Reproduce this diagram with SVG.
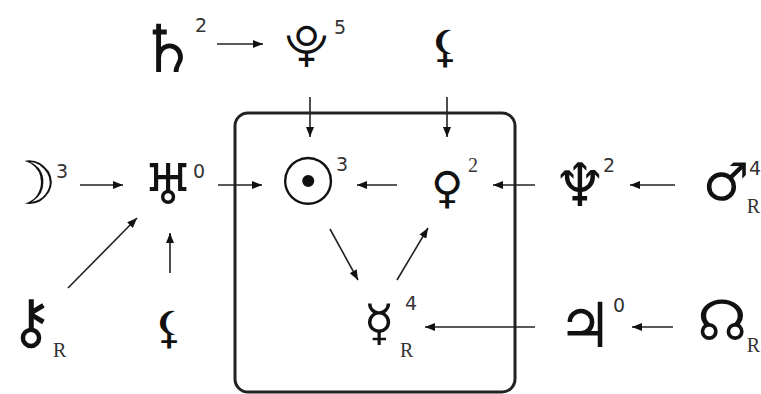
<svg xmlns="http://www.w3.org/2000/svg" width="761" height="394" viewBox="0 0 761 394">
<style>
.g{font-family:"DejaVu Sans",sans-serif;font-size:44px;fill:#111;text-anchor:middle;dominant-baseline:central}
.s{font-family:"DejaVu Sans",sans-serif;font-size:19px;fill:#333}
.r{font-family:"Liberation Serif",serif;font-size:20px;fill:#333}
.c{stroke:#222;stroke-width:1.6;fill:none}
</style>
<defs>
<marker id="a" viewBox="0 0 10 8" refX="10" refY="4" markerWidth="10" markerHeight="8" markerUnits="userSpaceOnUse" orient="auto"><path d="M0,0L10,4L0,8z" fill="#111"/></marker>
</defs>
<rect x="235" y="113" width="280" height="279" rx="13" fill="none" stroke="#222" stroke-width="3"/>
<g id="saturn"><text class="g" x="168" y="49" style="font-size:66px">♄</text><text class="s" x="195" y="32">2</text></g>
<g id="pluto"><text class="g" x="306" y="44">⯓</text><text class="s" x="334" y="34">5</text></g>
<g id="selena"><text class="g" x="445" y="46">⚸</text></g>
<g id="moon"><text class="g" x="30" y="183" style="font-size:60px">☽</text><text class="s" x="56" y="178">3</text></g>
<g id="uranus"><text class="g" x="168" y="184" style="font-size:56px">♅</text><text class="s" x="193" y="178">0</text></g>
<g id="sun"><text class="g" x="308" y="182" style="font-size:66px">☉</text><text class="s" x="336" y="171">3</text></g>
<g id="venus"><text class="g" x="447" y="187">♀</text><text class="r" x="468" y="172">2</text></g>
<g id="neptune"><text class="g" x="580" y="185" style="font-size:60px">♆</text><text class="s" x="603" y="172">2</text></g>
<g id="mars"><text class="g" x="726" y="182" style="font-size:52px">♂</text><text class="s" x="749" y="175">4</text><text class="r" x="760" y="213" text-anchor="end">R</text></g>
<g id="chiron"><text class="g" x="31" y="321" style="font-size:60px">⚷</text><text class="r" x="53" y="357">R</text></g>
<g id="lilith"><text class="g" x="169" y="327">⚸</text></g>
<g id="mercury"><text class="g" x="379" y="323" style="font-size:50px">☿</text><text class="s" x="405" y="310">4</text><text class="r" x="400" y="357">R</text></g>
<g id="jupiter"><text class="g" x="585" y="325" style="font-size:62px">♃</text><text class="s" x="613" y="312">0</text></g>
<g id="node"><text class="g" x="722" y="320" style="font-size:56px">☊</text><text class="r" x="760" y="352" text-anchor="end">R</text></g>
<g id="connectors" class="c">
<line x1="217" y1="44" x2="263" y2="44" marker-end="url(#a)"/>
<line x1="80" y1="185" x2="123" y2="185" marker-end="url(#a)"/>
<line x1="218" y1="185" x2="262" y2="185" marker-end="url(#a)"/>
<line x1="310" y1="97" x2="310" y2="137" marker-end="url(#a)"/>
<line x1="447" y1="97" x2="447" y2="137" marker-end="url(#a)"/>
<line x1="397" y1="185" x2="357" y2="185" marker-end="url(#a)"/>
<line x1="535" y1="185" x2="493" y2="185" marker-end="url(#a)"/>
<line x1="675" y1="185" x2="630" y2="185" marker-end="url(#a)"/>
<line x1="68" y1="288" x2="137" y2="218" marker-end="url(#a)"/>
<line x1="170" y1="273" x2="170" y2="233" marker-end="url(#a)"/>
<line x1="330" y1="229" x2="358" y2="280" marker-end="url(#a)"/>
<line x1="397" y1="280" x2="428" y2="228" marker-end="url(#a)"/>
<line x1="535" y1="327" x2="425" y2="327" marker-end="url(#a)"/>
<line x1="673" y1="327" x2="632" y2="327" marker-end="url(#a)"/>
</g>
</svg>
